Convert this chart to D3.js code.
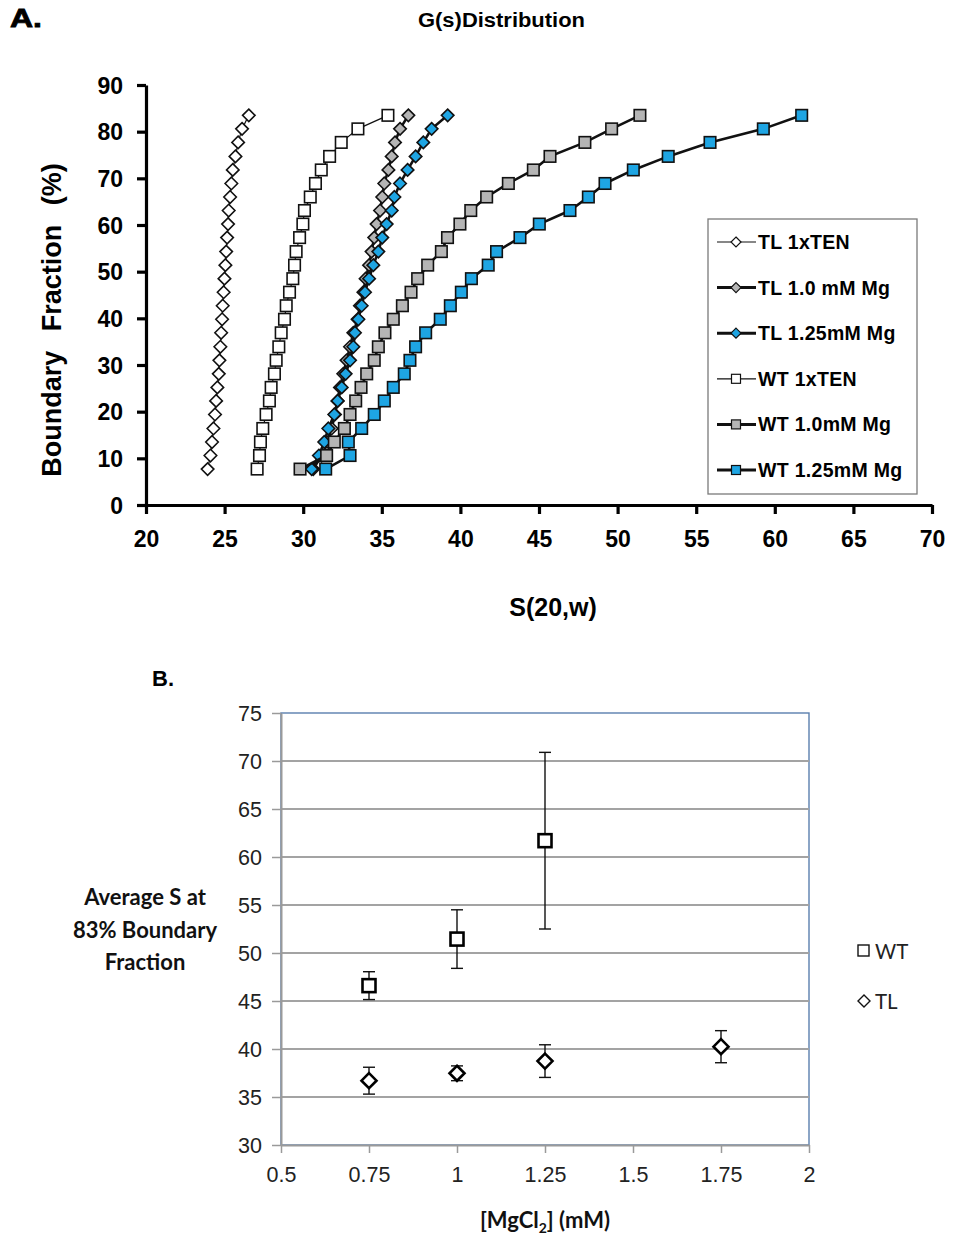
<!DOCTYPE html>
<html>
<head>
<meta charset="utf-8">
<script src="https://cdn.jsdelivr.net/npm/d3@7"></script>
<style>
  body { margin: 0; background: #fff; }
  svg { display: block; }
  text { font-family: "Liberation Sans", Arial, sans-serif; }
  .calibri { font-family: Lato, "Open Sans", sans-serif; }
</style>
</head>
<body>
<svg id="fig" width="953" height="1236"></svg>
<script>
// ---------- Panel A: G(s) distributions (boundary fraction vs. S20,w) ----------
const boundaryFraction = [7.7, 10.6, 13.5, 16.4, 19.4, 22.3, 25.2, 28.1, 31.0, 33.9, 36.9, 39.8, 42.7,
  45.6, 48.5, 51.4, 54.3, 57.3, 60.2, 63.1, 66.0, 68.9, 71.8, 74.7, 77.7, 80.6, 83.5];

const sTL_TEN = [23.92, 24.10, 24.20, 24.29, 24.39, 24.46, 24.54, 24.63, 24.67, 24.73, 24.78, 24.84, 24.88,
  24.94, 24.99, 25.05, 25.10, 25.16, 25.22, 25.26, 25.35, 25.43, 25.52, 25.69, 25.86, 26.11, 26.54];
const sTL_Mg100 = [30.64, 31.17, 31.60, 31.81, 32.02, 32.19, 32.34, 32.55, 32.76, 32.98, 33.19, 33.46, 33.61,
  33.83, 33.97, 34.19, 34.35, 34.52, 34.67, 34.89, 35.03, 35.16, 35.42, 35.63, 35.84, 36.16, 36.69];
const sTL_Mg125 = [30.54, 31.00, 31.34, 31.60, 31.98, 32.19, 32.45, 32.70, 32.98, 33.19, 33.29, 33.51, 33.72,
  33.93, 34.19, 34.46, 34.78, 35.03, 35.31, 35.63, 35.80, 36.16, 36.64, 37.15, 37.64, 38.17, 39.19];
const sWT_TEN = [27.07, 27.22, 27.28, 27.43, 27.64, 27.85, 27.96, 28.17, 28.28, 28.45, 28.60, 28.81, 28.92,
  29.13, 29.34, 29.45, 29.55, 29.77, 29.98, 30.08, 30.45, 30.78, 31.15, 31.68, 32.42, 33.48, 35.39];
const sWT_Mg100 = [29.80, 31.49, 31.98, 32.62, 32.98, 33.34, 33.68, 34.04, 34.52, 34.78, 35.20, 35.73, 36.31,
  36.86, 37.28, 37.92, 38.79, 39.18, 39.97, 40.66, 41.67, 43.05, 44.64, 45.70, 47.92, 49.62, 51.42];
const sWT_Mg125 = [31.43, 32.98, 32.87, 33.72, 34.52, 35.16, 35.73, 36.43, 36.79, 37.15, 37.79, 38.72, 39.36,
  40.06, 40.70, 41.77, 42.30, 43.79, 45.02, 46.97, 48.14, 49.20, 51.00, 53.22, 55.88, 59.27, 61.71];

const seriesNames = ["TL 1xTEN", "TL 1.0 mM Mg", "TL 1.25mM Mg", "WT 1xTEN", "WT 1.0mM Mg", "WT 1.25mM Mg"];
const seriesValues = [sTL_TEN, sTL_Mg100, sTL_Mg125, sWT_TEN, sWT_Mg100, sWT_Mg125];
const xTicksA = [20, 25, 30, 35, 40, 45, 50, 55, 60, 65, 70];
const yTicksA = [0, 10, 20, 30, 40, 50, 60, 70, 80, 90];

// ---------- Panel B: average S at 83% boundary fraction vs. [MgCl2] ----------
const wtMg = [0.75, 1.0, 1.25];
const wtAvgS = [46.6, 51.45, 61.7];
const wtSD = [1.45, 3.05, 9.2];
const tlMg = [0.75, 1.0, 1.25, 1.75];
const tlAvgS = [36.7, 37.47, 38.74, 40.24];
const tlSD = [1.4, 0.77, 1.7, 1.67];
const xTicksB = [0.5, 0.75, 1, 1.25, 1.5, 1.75, 2];
const yTicksB = [30, 35, 40, 45, 50, 55, 60, 65, 70, 75];

// Marker/line styles per series
const style = [
  { shape: "diamond", fill: "#ffffff", lw: 1.2 },
  { shape: "diamond", fill: "#b5b5b5", lw: 2.6 },
  { shape: "diamond", fill: "#1ea5e3", lw: 2.6 },
  { shape: "square",  fill: "#ffffff", lw: 1.2 },
  { shape: "square",  fill: "#b5b5b5", lw: 2.6 },
  { shape: "square",  fill: "#1ea5e3", lw: 2.6 }
];

const svg = d3.select("#fig");

function diamondPath(cx, cy, r) {
  return `M${cx},${cy - r}L${cx + r},${cy}L${cx},${cy + r}L${cx - r},${cy}Z`;
}
function drawMarker(g, shape, cx, cy, size, fill, sw) {
  if (shape === "square") {
    g.append("rect").attr("x", cx - size / 2).attr("y", cy - size / 2)
      .attr("width", size).attr("height", size)
      .attr("fill", fill).attr("stroke", "#111").attr("stroke-width", sw);
  } else {
    g.append("path").attr("d", diamondPath(cx, cy, size / 2 + 1))
      .attr("fill", fill).attr("stroke", "#111").attr("stroke-width", sw);
  }
}

// ===== Panel A =====
const xA = d3.scaleLinear().domain([20, 70]).range([146, 932]);
const yA = d3.scaleLinear().domain([0, 90]).range([505, 85]);

svg.append("text").attr("x", 10).attr("y", 27).attr("font-size", 26).attr("font-weight", "bold")
  .attr("stroke", "#000").attr("stroke-width", 0.8).attr("textLength", 32)
  .attr("lengthAdjust", "spacingAndGlyphs").text("A.");

svg.append("text").attr("x", 418).attr("y", 27).attr("font-size", 20).attr("font-weight", "bold")
  .attr("textLength", 167).attr("lengthAdjust", "spacingAndGlyphs").text("G(s)Distribution");

const gA = svg.append("g");

const axA_x = gA.append("g").attr("transform", `translate(0,${yA(0)})`)
  .call(d3.axisBottom(xA).tickValues(xTicksA).tickSize(9).tickSizeOuter(0).tickPadding(17).tickFormat(d3.format("d")));
const axA_y = gA.append("g").attr("transform", `translate(${xA(20)},0)`)
  .call(d3.axisLeft(yA).tickValues(yTicksA).tickSize(9).tickSizeOuter(0).tickPadding(14).tickFormat(d3.format("d")));
[axA_x, axA_y].forEach(ax => {
  ax.select(".domain").attr("stroke", "#000").attr("stroke-width", 3.2);
  ax.selectAll(".tick line").attr("stroke", "#000").attr("stroke-width", 3.2);
  ax.selectAll(".tick text").attr("font-size", 23).attr("font-weight", "bold").attr("fill", "#000")
    .attr("font-family", "'Liberation Sans', Arial, sans-serif");
});
axA_y.selectAll(".tick text").attr("dy", "0.36em");

gA.append("text").attr("transform", `translate(61,320) rotate(-90)`)
  .attr("text-anchor", "middle").attr("font-size", 27).attr("font-weight", "bold")
  .attr("word-spacing", 12).text("Boundary Fraction (%)");
gA.append("text").attr("x", 553).attr("y", 616).attr("text-anchor", "middle")
  .attr("font-size", 25).attr("font-weight", "bold").text("S(20,w)");

const lineA = d3.line().x(d => xA(d[0])).y(d => yA(d[1]));
seriesValues.forEach((vals, k) => {
  const pts = vals.map((s, i) => [s, boundaryFraction[i]]);
  const st = style[k];
  const g = gA.append("g");
  g.append("path").attr("d", lineA(pts)).attr("fill", "none")
    .attr("stroke", "#111").attr("stroke-width", st.lw);
  pts.forEach(p => drawMarker(g, st.shape, xA(p[0]), yA(p[1]), st.shape === "square" ? 11.5 : 10.5, st.fill, 1.6));
});

// Legend (panel A)
const legA = gA.append("g");
legA.append("rect").attr("x", 708).attr("y", 219).attr("width", 209).attr("height", 275)
  .attr("fill", "#fff").attr("stroke", "#7a7a7a").attr("stroke-width", 1.3);
seriesNames.forEach((name, k) => {
  const cy = 242 + k * 45.6;
  const st = style[k];
  legA.append("line").attr("x1", 717).attr("x2", 756).attr("y1", cy).attr("y2", cy)
    .attr("stroke", "#111").attr("stroke-width", st.lw === 1.2 ? 1.2 : 3);
  drawMarker(legA, st.shape, 736, cy, st.shape === "square" ? 9 : 8, st.fill, 1.2);
  legA.append("text").attr("x", 758).attr("y", cy + 7).attr("font-size", 19.5)
    .attr("font-weight", "bold").attr("letter-spacing", 0.3).text(name);
});

// ===== Panel B =====
const xB = d3.scaleLinear().domain([0.5, 2]).range([281, 809]);
const yB = d3.scaleLinear().domain([30, 75]).range([1145, 713]);

svg.append("text").attr("x", 152).attr("y", 686).attr("font-family", "'DejaVu Sans', sans-serif")
  .attr("font-size", 22).attr("font-weight", "bold").text("B.");

const gB = svg.append("g");
// plot frame
gB.append("rect").attr("x", xB(0.5)).attr("y", yB(75)).attr("width", xB(2) - xB(0.5))
  .attr("height", yB(30) - yB(75)).attr("fill", "none").attr("stroke", "#5a7fae").attr("stroke-width", 1.4);
// horizontal gridlines
gB.append("g").selectAll("line").data(yTicksB.filter(v => v > 30 && v < 75)).join("line")
  .attr("x1", xB(0.5)).attr("x2", xB(2)).attr("y1", d => yB(d)).attr("y2", d => yB(d))
  .attr("stroke", "#a3a3a3").attr("stroke-width", 2);

const axB_x = gB.append("g").attr("transform", `translate(0,${yB(30)})`)
  .call(d3.axisBottom(xB).tickValues(xTicksB).tickSize(8).tickSizeOuter(0).tickPadding(14)
    .tickFormat(d => String(d)));
const axB_y = gB.append("g").attr("transform", `translate(${xB(0.5)},0)`)
  .call(d3.axisLeft(yB).tickValues(yTicksB).tickSize(9).tickSizeOuter(0).tickPadding(10)
    .tickFormat(d3.format("d")));
[axB_x, axB_y].forEach(ax => {
  ax.select(".domain").attr("stroke", "#9a9a9a").attr("stroke-width", 2);
  ax.selectAll(".tick line").attr("stroke", "#9a9a9a").attr("stroke-width", 1.5);
  ax.selectAll(".tick text").attr("font-size", 21.5).attr("fill", "#222")
    .attr("font-family", "Lato, 'Open Sans', sans-serif");
});
axB_y.selectAll(".tick text").attr("dy", "0.36em");

// error bars and markers
function drawSeriesB(xs, means, sds, shape) {
  const g = gB.append("g");
  xs.forEach((x, i) => {
    const cx = xB(x), lo = yB(means[i] - sds[i]), hi = yB(means[i] + sds[i]);
    g.append("line").attr("x1", cx).attr("x2", cx).attr("y1", lo).attr("y2", hi)
      .attr("stroke", "#111").attr("stroke-width", 1.4);
    [lo, hi].forEach(y => g.append("line").attr("x1", cx - 6).attr("x2", cx + 6).attr("y1", y).attr("y2", y)
      .attr("stroke", "#111").attr("stroke-width", 1.4));
    if (shape === "square") {
      g.append("rect").attr("x", cx - 6.5).attr("y", yB(means[i]) - 6.5).attr("width", 13).attr("height", 13)
        .attr("fill", "#fff").attr("stroke", "#000").attr("stroke-width", 2.6);
    } else {
      g.append("path").attr("d", diamondPath(cx, yB(means[i]), 7.5))
        .attr("fill", "#fff").attr("stroke", "#000").attr("stroke-width", 2.6);
    }
  });
}
drawSeriesB(wtMg, wtAvgS, wtSD, "square");
drawSeriesB(tlMg, tlAvgS, tlSD, "diamond");

// y label
const ylab = gB.append("text").attr("class", "calibri").attr("text-anchor", "middle")
  .attr("font-size", 22).attr("font-weight", "bold").attr("fill", "#111");
["Average S at", "83% Boundary", "Fraction"].forEach((t, i) => {
  ylab.append("tspan").attr("x", 145).attr("y", 905 + i * 32.5).text(t);
});

// x label
const xlab = gB.append("text").attr("class", "calibri").attr("x", 545).attr("y", 1228)
  .attr("text-anchor", "middle").attr("font-size", 22).attr("font-weight", "bold").attr("fill", "#111");
xlab.append("tspan").text("[MgCl");
xlab.append("tspan").attr("font-size", 14).attr("dy", 5).text("2");
xlab.append("tspan").attr("dy", -5).text("] (mM)");

// legend (panel B)
const legB = gB.append("g");
legB.append("rect").attr("x", 858).attr("y", 945).attr("width", 11).attr("height", 11)
  .attr("fill", "#fff").attr("stroke", "#111").attr("stroke-width", 1.4);
legB.append("text").attr("class", "calibri").attr("x", 875).attr("y", 958.5).attr("font-size", 20.5)
  .attr("fill", "#222").text("WT");
legB.append("path").attr("d", diamondPath(864, 1001, 6)).attr("fill", "#fff")
  .attr("stroke", "#111").attr("stroke-width", 1.4);
legB.append("text").attr("class", "calibri").attr("x", 875).attr("y", 1008.5).attr("font-size", 20.5)
  .attr("fill", "#222").text("TL");
</script>
</body>
</html>
